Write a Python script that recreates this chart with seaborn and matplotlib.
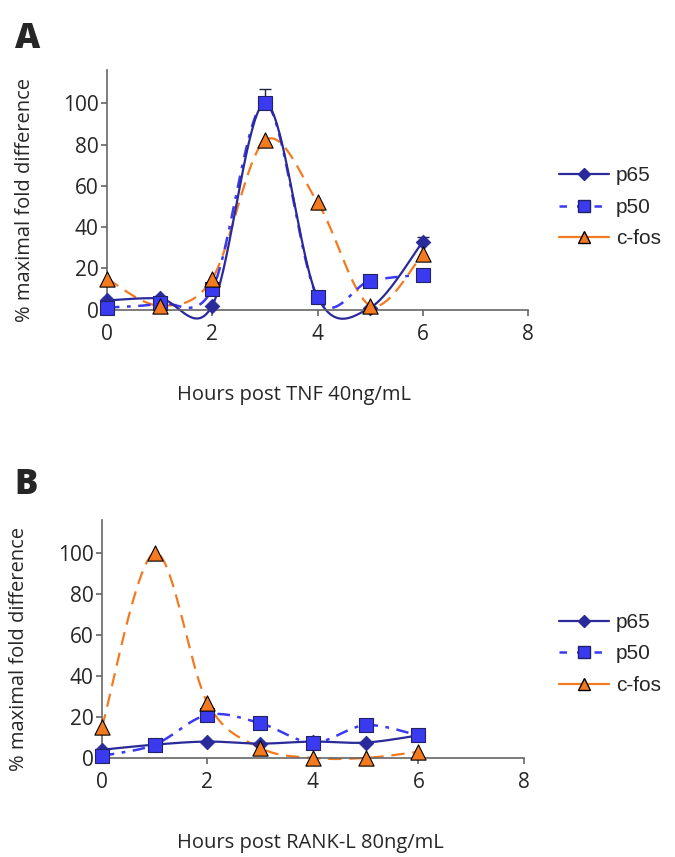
import numpy as np
import pandas as pd
import matplotlib
matplotlib.use("Agg")
import matplotlib.pyplot as plt
from matplotlib.lines import Line2D
import seaborn as sns

sns.set_style("ticks")
plt.rcParams['font.family'] = ['Open Sans', 'DejaVu Sans']

# data
hours = [0, 1, 2, 3, 4, 5, 6]

tnf_p65 = [4.5, 5.5, 2, 100, 6, 1, 33]
tnf_p65_err = [0, 0, 0, 7, 0, 0, 2]
tnf_p50 = [1, 3, 10, 100, 6, 14, 17]
tnf_cfos = [15, 2, 15, 82, 52, 2, 27]

rank_p65 = [4, 6.5, 8, 7, 8, 7.5, 11]
rank_p65_err = [0, 0, 0, 0, 0, 0, 2]
rank_p50 = [1, 6.5, 21, 17, 7.5, 16, 11]
rank_cfos = [15, 100, 27, 5, 0, 0, 3]

navy = '#2a2a9a'
blue = '#3a3af0'
orange = '#f47a1f'


def smooth(x, y, n=40):
    # excel-like smoothed line (bezier through the points)
    p = np.column_stack([x, y]).astype(float)
    xs, ys = [], []
    for i in range(len(p) - 1):
        p0 = p[i - 1] if i > 0 else p[i]
        p1, p2 = p[i], p[i + 1]
        p3 = p[i + 2] if i + 2 < len(p) else p[i + 1]
        c1 = p1 + (p2 - p0) / 6
        c2 = p2 - (p3 - p1) / 6
        t = np.linspace(0, 1, n)[:, None]
        b = (1 - t) ** 3 * p1 + 3 * (1 - t) ** 2 * t * c1 + 3 * (1 - t) * t ** 2 * c2 + t ** 3 * p2
        xs.extend(b[:, 0]); ys.extend(b[:, 1])
    return pd.DataFrame({'x': xs, 'y': ys})


def panel(ax, p65, p65_err, p50, cfos, xlabel, xlab_x):
    s = smooth(hours, cfos)
    sns.lineplot(data=s, x='x', y='y', ax=ax, color=orange, lw=1.6, sort=False,
                 estimator=None).lines[-1].set_dashes([6, 3.5])
    s = smooth(hours, p50)
    ln = sns.lineplot(data=s, x='x', y='y', ax=ax, color=blue, lw=1.8, sort=False,
                      estimator=None).lines[-1]
    ln.set_dashes([5, 3, 1.5, 3])
    s = smooth(hours, p65)
    sns.lineplot(data=s, x='x', y='y', ax=ax, color=navy, lw=1.6, sort=False, estimator=None)

    ax.errorbar(hours, p65, yerr=[np.zeros(len(p65)), p65_err], fmt='none',
                ecolor='#222244', elinewidth=1, capsize=4, zorder=3)
    sns.scatterplot(x=hours, y=p65, ax=ax, marker='D', s=55, color=navy,
                    edgecolor=navy, zorder=4, clip_on=False)
    sns.scatterplot(x=hours, y=p50, ax=ax, marker='s', s=110, color=blue,
                    edgecolor='#222266', linewidth=0.8, zorder=5, clip_on=False)
    sns.scatterplot(x=hours, y=cfos, ax=ax, marker='^', s=120, color=orange,
                    edgecolor='black', linewidth=0.8, zorder=6, clip_on=False)

    for l in ax.lines:
        l.set_clip_on(False)

    ax.set_xlim(0, 8)
    ax.set_ylim(-4, 116)
    ax.set_xticks([0, 2, 4, 6, 8])
    ax.set_yticks([0, 20, 40, 60, 80, 100])
    ax.spines['bottom'].set_position(('data', 0))
    ax.spines['left'].set_bounds(0, 116)
    for side in ['top', 'right']:
        ax.spines[side].set_visible(False)
    for side in ['left', 'bottom']:
        ax.spines[side].set_color('#666666')
        ax.spines[side].set_linewidth(1.2)
    ax.tick_params(axis='both', labelsize=15, color='#666666', width=1.2, length=4)
    ax.tick_params(axis='y', pad=2)
    ax.tick_params(axis='x', pad=6)
    ax.set_xlabel(xlabel, fontsize=14.5)
    ax.set_ylabel('% maximal fold difference', fontsize=14.5)
    ax.xaxis.set_label_coords(xlab_x, -0.27)
    ax.yaxis.set_label_coords(-0.172, 0.475)


fig = plt.figure(figsize=(6.75, 8.57), dpi=100)
ax1 = fig.add_axes([0.1585, 0.629, 0.624, 0.289])
ax2 = fig.add_axes([0.151, 0.106, 0.625, 0.287])

panel(ax1, tnf_p65, tnf_p65_err, tnf_p50, tnf_cfos, 'Hours post TNF 40ng/mL', 0.445)
panel(ax2, rank_p65, rank_p65_err, rank_p50, rank_cfos, 'Hours post RANK-L 80ng/mL', 0.495)

fig.text(0.022, 0.955, 'A', fontsize=25, fontweight='heavy', ha='left', va='center')
fig.text(0.022, 0.434, 'B', fontsize=25, fontweight='heavy', ha='left', va='center')

handles = [
    Line2D([], [], color=navy, lw=1.6, marker='D', markersize=6, markerfacecolor=navy),
    Line2D([], [], color=blue, lw=1.8, dashes=[3, 4], marker='s', markersize=8,
           markerfacecolor=blue, markeredgecolor='#222266'),
    Line2D([], [], color=orange, lw=1.6, marker='^', markersize=8.5,
           markerfacecolor=orange, markeredgecolor='black'),
]
names = ['p65', 'p50', 'c-fos']
for yc in [0.758, 0.237]:
    fig.legend(handles, names, loc='center left', bbox_to_anchor=(0.8, yc),
               frameon=False, prop={'family': 'Liberation Sans', 'size': 15},
               handlelength=2.4, labelspacing=0.6, handletextpad=0.35)

fig.savefig('out.png', dpi=100)
